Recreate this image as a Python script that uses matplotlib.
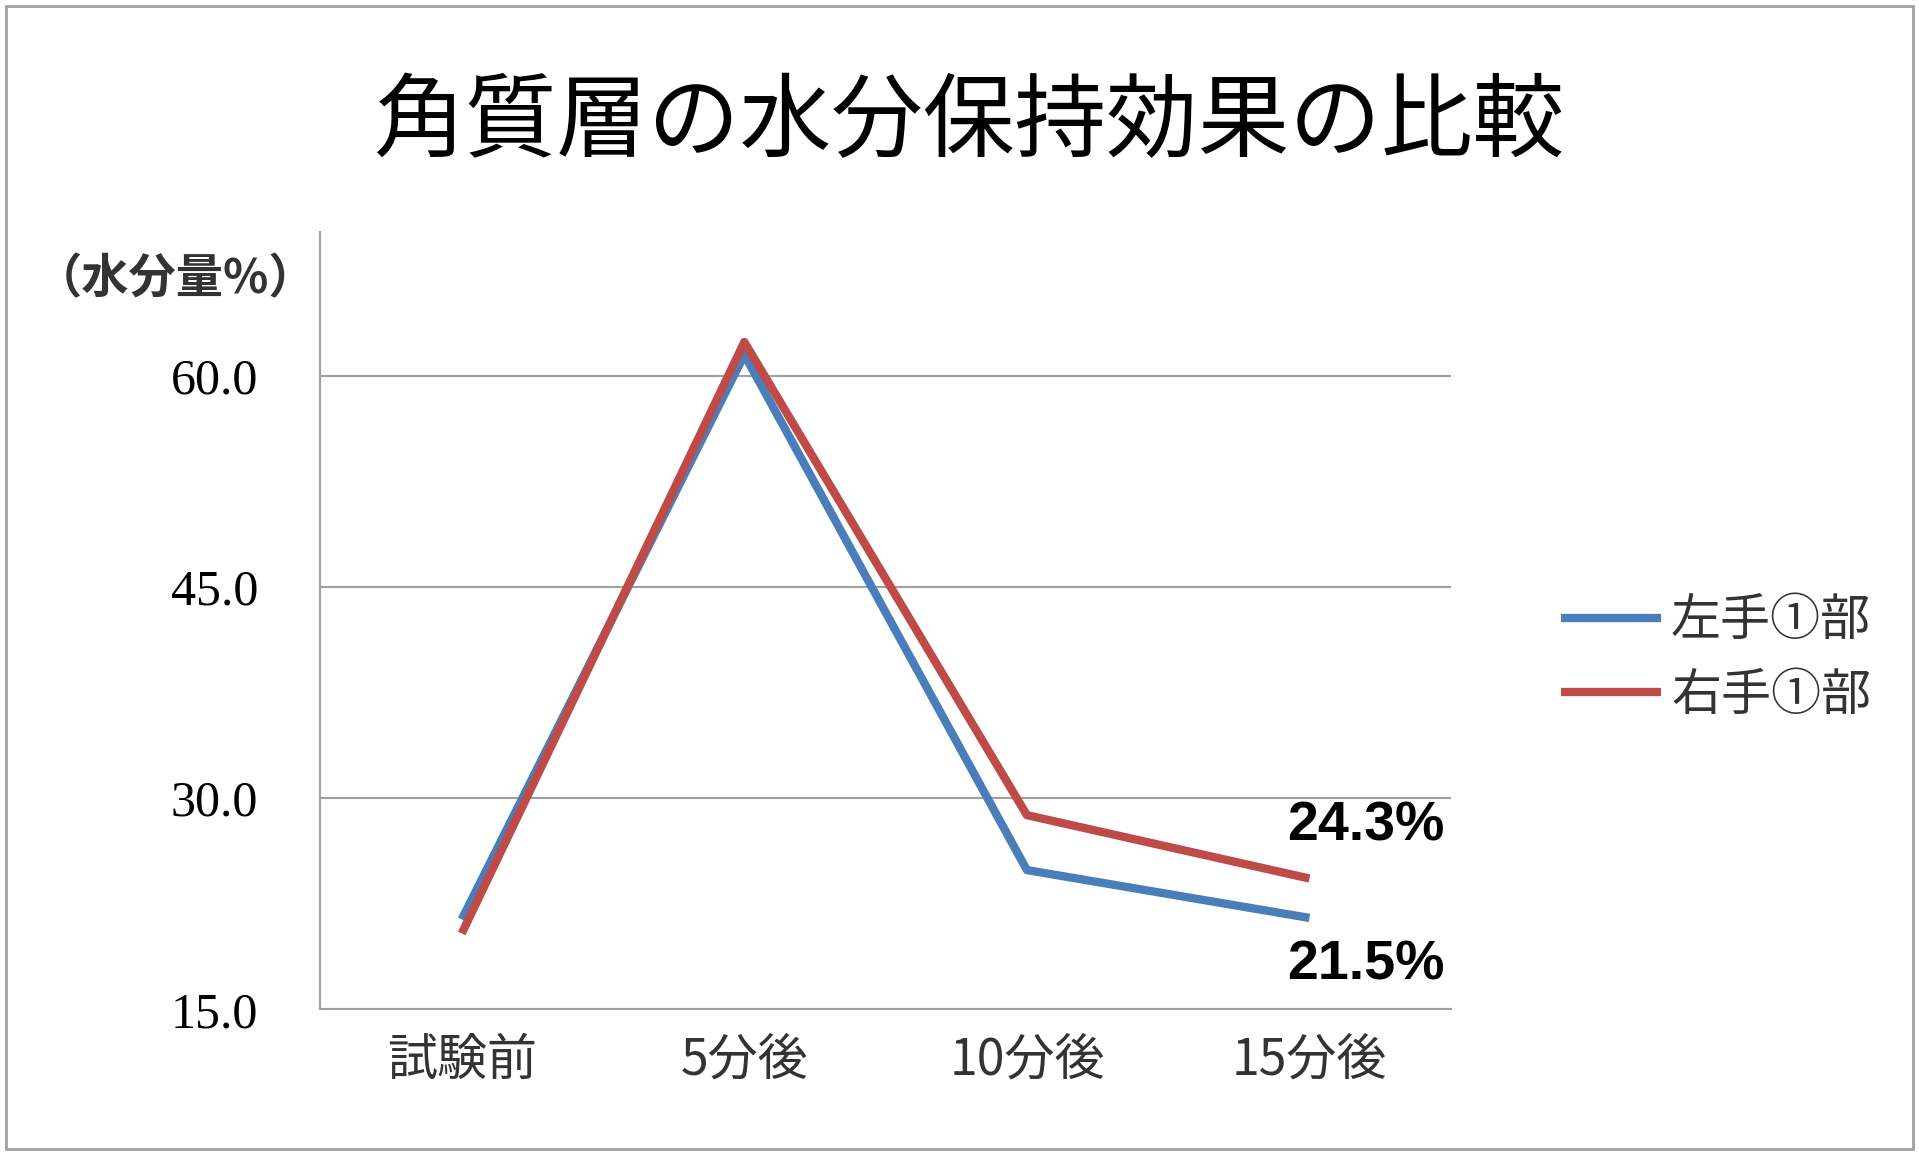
import matplotlib
matplotlib.use("Agg")
import matplotlib.pyplot as plt
from matplotlib.patches import Rectangle

plt.rcParams['font.family'] = ['Noto Sans CJK JP', 'DejaVu Sans']

categories = ["試験前", "5分後", "10分後", "15分後"]
left_hand = [21.4, 61.5, 24.9, 21.5]
right_hand = [20.4, 62.4, 28.8, 24.3]
yticks = [15.0, 30.0, 45.0, 60.0]
blue = "#4a7ebb"
red = "#be4b48"

fig = plt.figure(figsize=(19.19, 11.55), dpi=100)
fig.patches.append(Rectangle((0.003, 0.005), 0.994, 0.99, transform=fig.transFigure,
                             fill=False, edgecolor="#a0a0a0", linewidth=2))
ax = fig.add_axes([0.167, 0.126, 0.589, 0.673])

x = range(len(categories))
ax.plot(x, left_hand, color=blue, linewidth=6, label="左手①部", solid_capstyle="butt")
ax.plot(x, right_hand, color=red, linewidth=6, label="右手①部", solid_capstyle="butt")

ax.set_xlim(-0.5, 3.5)
ax.set_ylim(15, 70.2)
ax.set_yticks(yticks)
ax.set_yticklabels([f"{v:.1f}" for v in yticks], family="Liberation Serif", fontsize=36)
ax.set_xticks(list(x))
ax.set_xticklabels(categories, fontsize=36, color="#333333")
ax.tick_params(axis="y", length=0, pad=45)
ax.tick_params(axis="x", length=0, pad=18)
ax.grid(axis="y", color="#a0a0a0", linewidth=1.5)
for s in ["top", "right"]:
    ax.spines[s].set_visible(False)
for s in ["left", "bottom"]:
    ax.spines[s].set_color("#a0a0a0")
    ax.spines[s].set_linewidth(1.5)

ax.text(3.2, right_hand[3] + 3.7, f"{right_hand[3]}%", fontsize=40, fontweight="bold",
        family="Liberation Sans", ha="center", va="center")
ax.text(3.2, left_hand[3] - 3.4, f"{left_hand[3]}%", fontsize=40, fontweight="bold",
        family="Liberation Sans", ha="center", va="center")

fig.text(0.018, 0.758, "（水分量%）", fontsize=34, fontweight="bold", color="#333333",
         va="center")
fig.text(0.505, 0.893, "角質層の水分保持効果の比較", fontsize=66, ha="center", va="center")

fig.legend(loc="center left", bbox_to_anchor=(0.79, 0.43), frameon=False, fontsize=36,
           handlelength=2.0, handletextpad=0.2, labelspacing=0.45, labelcolor="#333333")

fig.savefig("out.png", dpi=100)
